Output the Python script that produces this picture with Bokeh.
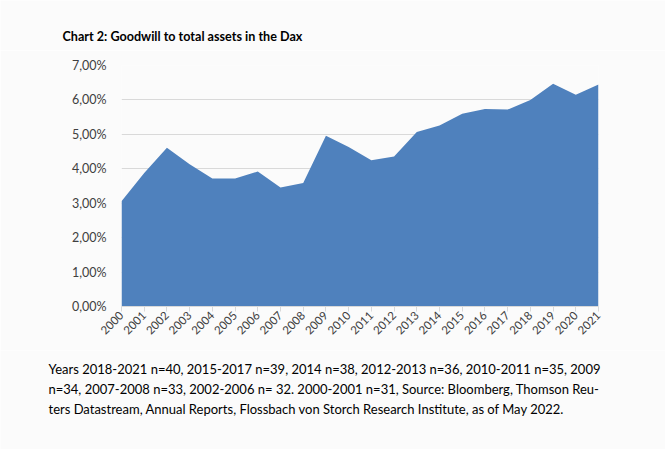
from math import pi
from bokeh.plotting import figure
from bokeh.models import Label, FixedTicker, Range1d
from bokeh.layouts import column
from bokeh.embed import file_html
from bokeh.resources import INLINE

years = list(range(2000, 2022))
goodwill_pct = [3.06, 3.88, 4.61, 4.13, 3.72, 3.72, 3.92, 3.46, 3.59, 4.96, 4.63,
                4.25, 4.36, 5.07, 5.26, 5.60, 5.74, 5.72, 6.00, 6.47, 6.15, 6.45]
y_ticks = [0, 1, 2, 3, 4, 5, 6, 7]
y_tick_labels = ["0,00%", "1,00%", "2,00%", "3,00%", "4,00%", "5,00%", "6,00%", "7,00%"]
title_text = "Chart 2: Goodwill to total assets in the Dax"
footnote_lines = [
    "Years 2018-2021 n=40, 2015-2017 n=39, 2014 n=38, 2012-2013 n=36, 2010-2011 n=35, 2009",
    "n=34, 2007-2008 n=33, 2002-2006 n= 32. 2000-2001 n=31, Source: Bloomberg, Thomson Reu-",
    "ters Datastream, Annual Reports, Flossbach von Storch Research Institute, as of May 2022.",
]

W = 665
TOP_H, MAIN_H, BOT_H = 50, 300, 99
L, R = 121, 598
FRAME_TOP, FRAME_BOTTOM = 65, 306  # in page pixels
FONT = "Lato"
BG = "#fbfbfb"


def text_panel(height):
    f = figure(width=W, height=height, output_backend="svg", toolbar_location=None,
               x_range=Range1d(0, 1), y_range=Range1d(0, 1),
               x_axis_type=None, y_axis_type=None,
               min_border=0, min_border_left=0, min_border_right=0,
               min_border_top=0, min_border_bottom=0,
               background_fill_color=BG, border_fill_color=BG,
               outline_line_color=None, frame_align=False)
    f.grid.visible = False
    return f


# title panel
top = text_panel(TOP_H)
top.add_layout(Label(x=62, y=TOP_H - 36, x_units="screen", y_units="screen",
                     text=title_text, text_font=FONT, text_font_size="12.6px",
                     text_font_style="bold", text_color="#000000",
                     text_baseline="middle", text_align="left"))

# main chart
p = figure(width=W, height=MAIN_H, output_backend="svg", toolbar_location=None,
           x_range=Range1d(years[0], years[-1]), y_range=Range1d(0, 7),
           min_border_left=L, min_border_right=W - R,
           min_border_top=FRAME_TOP - TOP_H,
           min_border_bottom=TOP_H + MAIN_H - FRAME_BOTTOM,
           background_fill_color=BG, border_fill_color=BG, outline_line_color=None,
           frame_align=False)

p.varea(x=years, y1=[0] * len(years), y2=goodwill_pct, fill_color="#4f81bd")

p.xgrid.grid_line_color = None
p.ygrid.grid_line_color = "#d9d9d9"
p.ygrid.ticker = FixedTicker(ticks=y_ticks)

p.yaxis.ticker = FixedTicker(ticks=y_ticks)
p.yaxis.major_label_overrides = {t: s for t, s in zip(y_ticks, y_tick_labels)}
p.yaxis.axis_line_color = None
p.yaxis.major_tick_line_color = None
p.yaxis.minor_tick_line_color = None
p.yaxis.major_label_text_font = FONT
p.yaxis.major_label_text_font_size = "12.5px"
p.yaxis.major_label_text_color = "#404040"
p.yaxis.major_label_standoff = 9

p.xaxis.ticker = FixedTicker(ticks=years)
p.xaxis.major_label_overrides = {y: str(y) for y in years}
p.xaxis.major_label_orientation = pi / 4
p.xaxis.axis_line_color = "#d9d9d9"
p.xaxis.major_tick_line_color = "#d9d9d9"
p.xaxis.major_tick_in = 0
p.xaxis.major_tick_out = 5
p.xaxis.minor_tick_line_color = None
p.xaxis.major_label_text_font = FONT
p.xaxis.major_label_text_font_size = "11.5px"
p.xaxis.major_label_text_color = "#404040"
p.xaxis.major_label_standoff = 2

# footnote panel
bot = text_panel(BOT_H)
page_top_of_bot = TOP_H + MAIN_H
for i, line in enumerate(footnote_lines):
    cy = 368 + 20.3 * i
    bot.add_layout(Label(x=48, y=page_top_of_bot + BOT_H - cy, x_units="screen",
                         y_units="screen", text=line, text_font=FONT,
                         text_font_size="13px", text_color="#000000",
                         text_baseline="middle", text_align="left"))

layout = column(top, p, bot, spacing=0)
open("out.html", "w").write(file_html(layout, INLINE))
